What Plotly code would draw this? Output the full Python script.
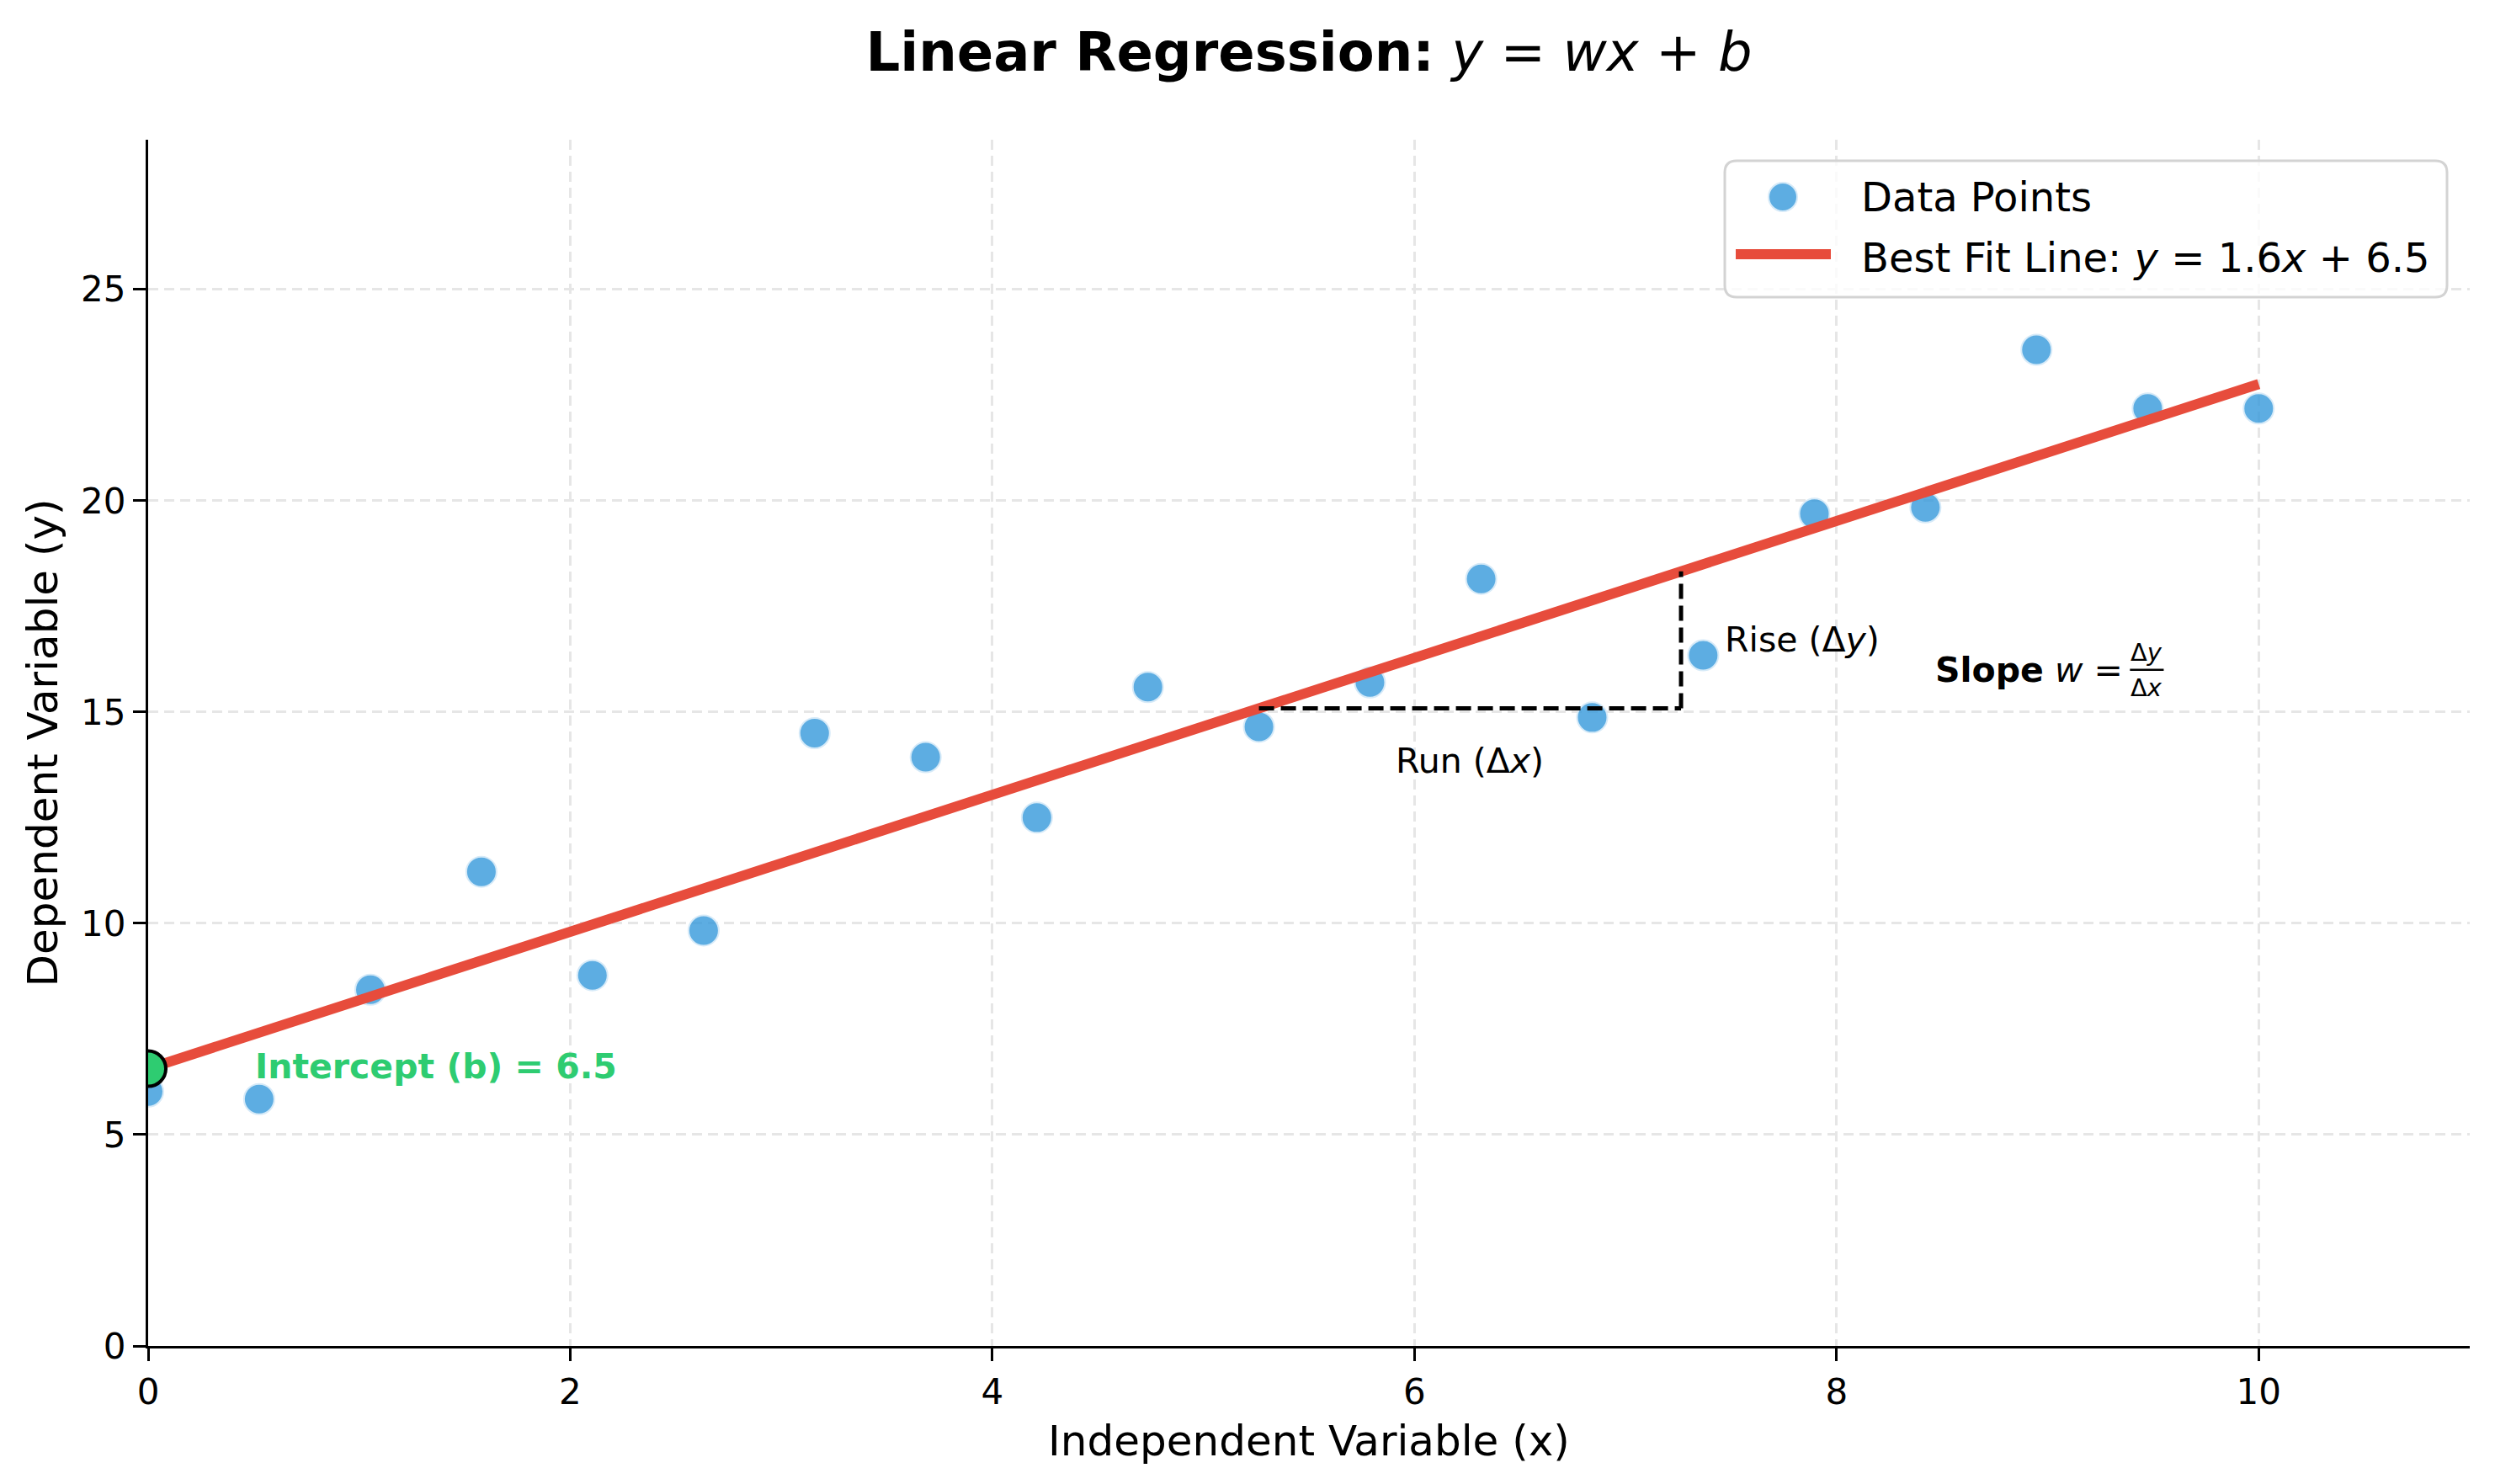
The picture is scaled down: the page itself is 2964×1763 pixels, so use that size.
import plotly.graph_objects as go

# ---- data ----
x_data = [0.0, 0.526, 1.053, 1.579, 2.105, 2.632, 3.158, 3.684, 4.211, 4.737,
          5.263, 5.789, 6.316, 6.842, 7.368, 7.895, 8.421, 8.947, 9.474, 10.0]
y_data = [6.02, 5.84, 8.43, 11.22, 8.77, 9.83, 14.50, 13.93, 12.50, 15.59,
          14.65, 15.70, 18.15, 14.87, 16.34, 19.69, 19.84, 23.57, 22.18, 22.18]
slope_w = 1.62
intercept_b = 6.56
fit_x = [0.0, 10.0]
fit_y = [intercept_b + slope_w * v for v in fit_x]
run_x0 = 5.263
run_dx = 2.0
x_ticks = [0, 2, 4, 6, 8, 10]
y_ticks = [0, 5, 10, 15, 20, 25]
x_range = [0, 11]
y_range = [0, 28.54]
legend_labels = ["Data Points", "Best Fit Line: <i>y</i> = 1.6<i>x</i> + 6.5"]

FONT = "DejaVu Sans"
BLUE = "rgba(52,152,219,0.8)"
BLUE_EDGE = "rgba(214,234,248,1)"
RED = "#e74c3c"
GREEN = "#2ecc71"

# pixel geometry of plot area (figure pixels)
W, H = 2964, 1763
L, R, T, B = 176, 2934, 166, 1599


def px(X):
    return (X - L) / (R - L)


def py(Y):
    return (B - Y) / (B - T)


fig = go.Figure()

fig.add_trace(go.Scatter(
    x=x_data, y=y_data, mode="markers", name=legend_labels[0], showlegend=False,
    marker=dict(size=36, color=BLUE, line=dict(color=BLUE_EDGE, width=2)),
))
fig.add_trace(go.Scatter(
    x=fit_x, y=fit_y, mode="lines", name=legend_labels[1], showlegend=False,
    line=dict(color=RED, width=12),
))

# rise / run triangle
y_run = intercept_b + slope_w * run_x0
x_end = run_x0 + run_dx
y_rise = intercept_b + slope_w * x_end
fig.add_trace(go.Scatter(
    x=[run_x0, x_end], y=[y_run, y_run], mode="lines", showlegend=False,
    line=dict(color="black", width=5, dash="18px,8px"),
))
fig.add_trace(go.Scatter(
    x=[x_end, x_end], y=[y_run, y_rise], mode="lines", showlegend=False,
    line=dict(color="black", width=5, dash="18px,8px"),
))

# intercept marker
fig.add_trace(go.Scatter(
    x=[0], y=[intercept_b], mode="markers", showlegend=False,
    marker=dict(size=42, color=GREEN, line=dict(color="black", width=4)),
))

fig.add_annotation(x=(run_x0 + x_end) / 2, y=y_run - 1.25, text="Run (Δ<i>x</i>)",
                   showarrow=False, xanchor="center", yanchor="middle",
                   font=dict(family=FONT, size=41, color="black"))
fig.add_annotation(x=x_end + 0.2, y=(y_run + y_rise) / 2, text="Rise (Δ<i>y</i>)",
                   showarrow=False, xanchor="left", yanchor="middle",
                   font=dict(family=FONT, size=41, color="black"))
# slope text with stacked fraction
fig.add_annotation(x=8.46, y=16.0, text="<b>Slope</b> <i>w</i> =",
                   showarrow=False, xanchor="left", yanchor="middle",
                   font=dict(family=FONT, size=41, color="black"))
fig.add_annotation(x=9.47, y=16.0, text="Δ<i>y</i>", showarrow=False,
                   xanchor="center", yanchor="bottom", yshift=2,
                   font=dict(family=FONT, size=29, color="black"))
fig.add_annotation(x=9.47, y=16.0, text="Δ<i>x</i>", showarrow=False,
                   xanchor="center", yanchor="top", yshift=-2,
                   font=dict(family=FONT, size=29, color="black"))
fig.add_shape(type="line", xref="x", yref="y", x0=9.39, x1=9.55, y0=16.0, y1=16.0,
              line=dict(color="black", width=2.5))
fig.add_annotation(x=0.5, y=intercept_b + 0.05, text="<b>Intercept (b) = 6.5</b>",
                   showarrow=False, xanchor="left", yanchor="middle",
                   font=dict(family=FONT, size=41, color=GREEN))

# ---- legend (drawn in paper coordinates) ----
bx0, bx1, by0, by1 = px(2049), px(2907), py(353), py(191)
rx, ry = 14 / (R - L), 14 / (B - T)
path = (f"M {bx0+rx},{by1} L {bx1-rx},{by1} Q {bx1},{by1} {bx1},{by1-ry} "
        f"L {bx1},{by0+ry} Q {bx1},{by0} {bx1-rx},{by0} L {bx0+rx},{by0} "
        f"Q {bx0},{by0} {bx0},{by0+ry} L {bx0},{by1-ry} Q {bx0},{by1} {bx0+rx},{by1} Z")
fig.add_shape(type="path", xref="paper", yref="paper", path=path,
              fillcolor="rgba(255,255,255,0.8)", line=dict(color="#d3d3d3", width=3),
              layer="above")
fig.add_shape(type="circle", xref="paper", yref="paper",
              x0=px(2101), x1=px(2135), y0=py(251), y1=py(217),
              fillcolor=BLUE, line=dict(color=BLUE_EDGE, width=2), layer="above")
fig.add_shape(type="line", xref="paper", yref="paper",
              x0=px(2062), x1=px(2175), y0=py(302), y1=py(302),
              line=dict(color=RED, width=12), layer="above")
fig.add_annotation(xref="paper", yref="paper", x=px(2209), y=py(234),
                   text=legend_labels[0], showarrow=False, xanchor="left", yanchor="middle",
                   font=dict(family=FONT, size=48, color="black"))
fig.add_annotation(xref="paper", yref="paper", x=px(2209), y=py(306),
                   text=legend_labels[1], showarrow=False, xanchor="left", yanchor="middle",
                   font=dict(family=FONT, size=48, color="black"))

axis_common = dict(
    showline=True, linecolor="black", linewidth=3.3, mirror=False,
    ticks="outside", ticklen=15, tickwidth=3, tickcolor="black",
    showgrid=True, gridcolor="#e6e6e6", gridwidth=2.5, griddash="12px,7px",
    zeroline=False, tickfont=dict(family=FONT, size=42, color="black"),
)

fig.update_layout(
    width=W, height=H,
    paper_bgcolor="white", plot_bgcolor="white",
    margin=dict(l=L, r=W - R, t=T, b=H - B, autoexpand=False),
    title=dict(text="<b>Linear Regression:</b> <i>y</i> = <i>wx</i> + <i>b</i>",
               x=0.5, xref="paper", xanchor="center", y=1 - 62 / H, yanchor="middle",
               font=dict(family=FONT, size=64, color="black")),
    xaxis=dict(range=x_range, tickvals=x_ticks, title=dict(text="Independent Variable (x)",
               font=dict(family=FONT, size=50, color="black"), standoff=18), **axis_common),
    yaxis=dict(range=y_range, tickvals=y_ticks, title=dict(text="Dependent Variable (y)",
               font=dict(family=FONT, size=50, color="black"), standoff=12), **axis_common),
    showlegend=False,
)

fig.write_html("out.html")
